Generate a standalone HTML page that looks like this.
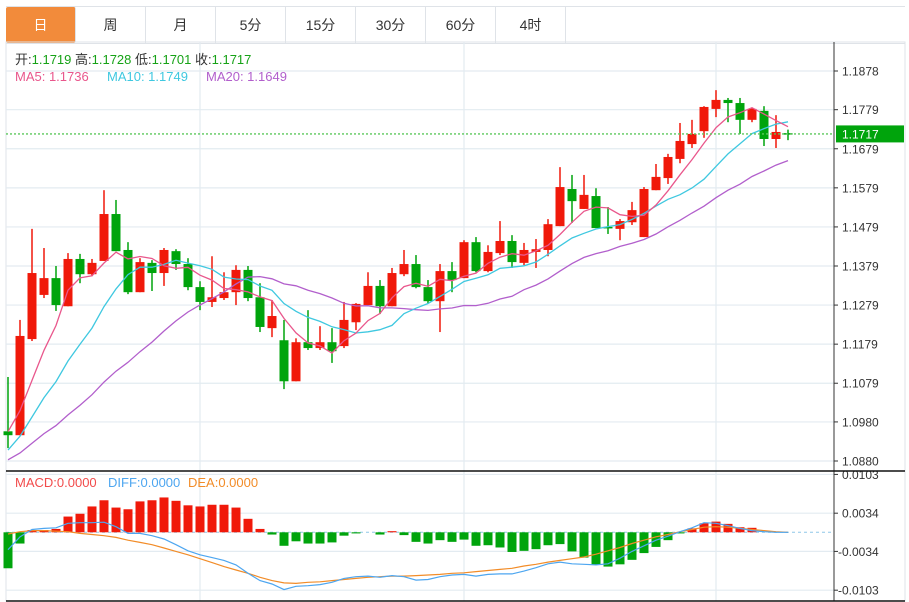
<!DOCTYPE html>
<html><head><meta charset="utf-8">
<style>
html,body{margin:0;padding:0;background:#fff;}
body{width:909px;height:602px;overflow:hidden;position:relative;font-family:"Liberation Sans","Noto Sans CJK SC",sans-serif;}
.tabs{position:absolute;left:6px;top:6px;height:36px;width:899px;border-top:1px solid #dfe3e8;border-bottom:1px solid #dfe3e8;display:flex;}
.tab{width:69px;border-right:1px solid #dfe3e8;text-align:center;line-height:36px;font-size:14px;color:#333;}
.tab.active{background:#f28b3b;color:#fff;border-radius:2px;}
svg{position:absolute;left:0;top:0;}
</style></head><body>
<div class="tabs">
<div class="tab active">日</div>
<div class="tab">周</div>
<div class="tab">月</div>
<div class="tab">5分</div>
<div class="tab">15分</div>
<div class="tab">30分</div>
<div class="tab">60分</div>
<div class="tab">4时</div>
</div>
<svg id="chart" width="909" height="602" font-family="Liberation Sans, Noto Sans CJK SC, sans-serif">
<g id="grid"></g><g id="marks"></g><g id="axes"></g>
<g font-size="13">
<text x="15" y="64" fill="#333">开:<tspan fill="#16a216">1.1719</tspan>  高:<tspan fill="#16a216">1.1728</tspan>  低:<tspan fill="#16a216">1.1701</tspan>  收:<tspan fill="#16a216">1.1717</tspan></text>
</g>
<g font-size="13">
<text x="15" y="81" fill="#e9578c">MA5: 1.1736</text>
<text x="107" y="81" fill="#3fc8e0">MA10: 1.1749</text>
<text x="206" y="81" fill="#b25fcc">MA20: 1.1649</text>
</g>
<g font-size="13">
<text x="15" y="487" fill="#f24b4b">MACD:0.0000</text>
<text x="108" y="487" fill="#4da6f0">DIFF:0.0000</text>
<text x="188" y="487" fill="#f28c28">DEA:0.0000</text>
</g>
</svg>
<script>
const opens=[1.0956,1.0946,1.1192,1.1305,1.1348,1.1276,1.1397,1.1358,1.1392,1.1512,1.1420,1.1312,1.1387,1.1361,1.1417,1.1384,1.1325,1.1287,1.1297,1.1312,1.1369,1.1299,1.1220,1.1189,1.1084,1.1184,1.1169,1.1184,1.1174,1.1235,1.1279,1.1328,1.1276,1.1358,1.1384,1.1325,1.1289,1.1366,1.1348,1.1440,1.1366,1.1412,1.1443,1.1387,1.1415,1.1420,1.1481,1.1576,1.1525,1.1558,1.1479,1.1474,1.1491,1.1453,1.1573,1.1604,1.1653,1.1691,1.1724,1.1781,1.1804,1.1796,1.1753,1.1776,1.1704,1.1719];
const highs=[1.1095,1.1241,1.1474,1.1425,1.1379,1.1412,1.1410,1.1397,1.1573,1.1548,1.1440,1.1399,1.1394,1.1425,1.1422,1.1399,1.1340,1.1404,1.1363,1.1381,1.1379,1.1335,1.1292,1.1241,1.1194,1.1266,1.1225,1.1220,1.1287,1.1284,1.1363,1.1343,1.1374,1.1420,1.1407,1.1343,1.1384,1.1389,1.1445,1.1453,1.1432,1.1494,1.1458,1.1438,1.1448,1.1499,1.1632,1.1612,1.1612,1.1578,1.1530,1.1499,1.1543,1.1581,1.1640,1.1666,1.1745,1.1753,1.1788,1.1829,1.1809,1.1809,1.1783,1.1788,1.1765,1.1728];
const lows=[1.0913,1.0946,1.1187,1.1297,1.1264,1.1276,1.1335,1.1353,1.1392,1.1417,1.1307,1.1312,1.1315,1.1328,1.1369,1.1317,1.1266,1.1274,1.1292,1.1279,1.1289,1.1210,1.1197,1.1064,1.1084,1.1164,1.1164,1.1131,1.1169,1.1215,1.1279,1.1256,1.1276,1.1353,1.1322,1.1284,1.1210,1.1312,1.1348,1.1363,1.1363,1.1407,1.1374,1.1381,1.1374,1.1404,1.1481,1.1489,1.1525,1.1476,1.1461,1.1445,1.1484,1.1453,1.1573,1.1589,1.1642,1.1681,1.1707,1.1760,1.1747,1.1717,1.1747,1.1686,1.1681,1.1701];
const closes=[1.0946,1.1200,1.1361,1.1348,1.1279,1.1397,1.1358,1.1387,1.1512,1.1417,1.1312,1.1389,1.1361,1.1420,1.1384,1.1325,1.1287,1.1299,1.1312,1.1369,1.1297,1.1223,1.1251,1.1084,1.1184,1.1169,1.1184,1.1161,1.1241,1.1282,1.1328,1.1276,1.1361,1.1384,1.1325,1.1289,1.1366,1.1343,1.1440,1.1366,1.1415,1.1443,1.1389,1.1420,1.1422,1.1486,1.1581,1.1545,1.1561,1.1476,1.1476,1.1494,1.1522,1.1576,1.1607,1.1658,1.1699,1.1717,1.1786,1.1804,1.1796,1.1753,1.1781,1.1704,1.1722,1.1717];
const priorCloses=[1.0850,1.0862,1.0855,1.0870,1.0848,1.0860,1.0852,1.0866,1.0858,1.0859,1.0845,1.0870,1.0852,1.0868,1.0870,1.0930,1.0975,1.0962,1.0962];
const macdBars=[-0.0064,-0.0020,0.0004,0.0004,0.0006,0.0028,0.0033,0.0046,0.0057,0.0044,0.0041,0.0055,0.0057,0.0062,0.0056,0.0048,0.0046,0.0049,0.0049,0.0044,0.0024,0.0006,-0.0004,-0.0024,-0.0016,-0.0020,-0.0020,-0.0018,-0.0006,-0.0002,0.0000,-0.0004,0.0002,-0.0005,-0.0017,-0.0020,-0.0014,-0.0017,-0.0013,-0.0024,-0.0023,-0.0027,-0.0035,-0.0033,-0.0030,-0.0023,-0.0021,-0.0034,-0.0045,-0.0058,-0.0061,-0.0057,-0.0049,-0.0037,-0.0026,-0.0014,-0.0002,0.0007,0.0016,0.0019,0.0015,0.0009,0.0008,0.0000,0.0000,0.0000];
const diffValues=[-0.0031,-0.0008,0.0005,0.0007,0.0008,0.0016,0.0017,0.0017,0.0018,0.0010,-0.0002,-0.0002,-0.0006,-0.0012,-0.0022,-0.0033,-0.0040,-0.0045,-0.0050,-0.0058,-0.0073,-0.0086,-0.0092,-0.0102,-0.0096,-0.0095,-0.0093,-0.0089,-0.0082,-0.0079,-0.0078,-0.0080,-0.0077,-0.0079,-0.0085,-0.0084,-0.0079,-0.0076,-0.0075,-0.0078,-0.0075,-0.0074,-0.0074,-0.0069,-0.0063,-0.0056,-0.0053,-0.0056,-0.0057,-0.0058,-0.0056,-0.0046,-0.0034,-0.0024,-0.0014,-0.0007,0.0001,0.0008,0.0017,0.0016,0.0012,0.0007,0.0003,0.0001,0.0000,0.0000];
const deaValues=[-0.0003,0.0001,0.0003,0.0003,0.0002,0.0001,-0.0002,-0.0004,-0.0006,-0.0009,-0.0014,-0.0018,-0.0022,-0.0028,-0.0034,-0.0040,-0.0047,-0.0054,-0.0061,-0.0067,-0.0073,-0.0080,-0.0086,-0.0090,-0.0091,-0.0089,-0.0088,-0.0086,-0.0084,-0.0082,-0.0080,-0.0079,-0.0078,-0.0078,-0.0077,-0.0076,-0.0075,-0.0073,-0.0072,-0.0070,-0.0068,-0.0066,-0.0064,-0.0060,-0.0057,-0.0053,-0.0050,-0.0047,-0.0044,-0.0039,-0.0033,-0.0027,-0.0020,-0.0014,-0.0008,-0.0004,0.0001,0.0005,0.0009,0.0010,0.0009,0.0007,0.0005,0.0003,0.0001,0.0000];
const priceTicks=['1.1878','1.1779','1.1679','1.1579','1.1479','1.1379','1.1279','1.1179','1.1079','1.0980','1.0880'];
const macdTicks=['0.0103','0.0034','-0.0034','-0.0103'];
const lastPrice=1.1717;

const NS='http://www.w3.org/2000/svg';
const P0=1.0880,P1=1.1878,Y0=461,Y1=71;
function yP(p){return Y0+(p-P0)*(Y1-Y0)/(P1-P0);}
function yM(v){return 532.3-v*5620;}
function xI(i){return 8+12*i;}
const RED='#f0190a',GREEN='#00a40c';
function mk(tag,attrs,parent){const e=document.createElementNS(NS,tag);for(const k in attrs)e.setAttribute(k,attrs[k]);parent.appendChild(e);return e;}
const grid=document.getElementById('grid'),marks=document.getElementById('marks'),axes=document.getElementById('axes');

// frame / grid
let e;
e=mk('rect',{x:6,y:42,width:899,height:559,fill:'none',stroke:'#dfe3e8'},grid);


priceTicks.forEach(t=>{const y=yP(parseFloat(t));
 e=mk('line',{x1:6,x2:834,y1:y,y2:y,stroke:'#e3ebf1','stroke-width':1.2},grid);
 
 
 e=mk('line',{x1:834,x2:838,y1:y,y2:y,stroke:'#333'},axes);
 
 
 e=mk('text',{x:842,y:y+4.5,'font-size':12,fill:'#333'},axes);e.textContent=t;
 
 
});
[200,464,716].forEach(x=>{
 e=mk('line',{x1:x,x2:x,y1:42,y2:601,stroke:'#e3ebf1','stroke-width':1.2},grid);
 
 
});
macdTicks.forEach(t=>{const y=yM(parseFloat(t));
 e=mk('line',{x1:6,x2:834,y1:y,y2:y,stroke:'#e3ebf1','stroke-width':1.2},grid);
 
 
 e=mk('line',{x1:834,x2:838,y1:y,y2:y,stroke:'#333'},axes);
 
 
 e=mk('text',{x:t[0]=='-'?838:842,y:y+4.5,'font-size':12,fill:'#333'},axes);e.textContent=t;
 
 
});
e=mk('line',{x1:6,x2:834,y1:yM(0),y2:yM(0),stroke:'#8fc7e8','stroke-dasharray':'3,3'},grid);



// candles
for(let i=0;i<closes.length;i++){
 const up=closes[i]>=opens[i]&&!(i==closes.length-1);
 const c=(closes[i]>opens[i])?RED:GREEN;
 const x=xI(i);
 e=mk('line',{x1:x,x2:x,y1:yP(highs[i]),y2:yP(lows[i]),stroke:c,'stroke-width':1.5},marks);
 
 
 const t=yP(Math.max(opens[i],closes[i])),b=yP(Math.min(opens[i],closes[i]));
 e=mk('rect',{x:x-4.5,y:t,width:9,height:Math.max(1.5,b-t),fill:c},marks);
 
 
}
// MAs
const all=priorCloses.concat(closes);
function ma(n){const out=[];for(let i=0;i<closes.length;i++){let s=0;const k=i+priorCloses.length;for(let j=k-n+1;j<=k;j++)s+=all[j];out.push(s/n);}return out;}
[[20,'#b25fcc','ma20-line'],[10,'#3fc8e0','ma10-line'],[5,'#e9578c','ma5-line']].forEach(([n,col,name])=>{
 const v=ma(n);
 e=mk('polyline',{points:v.map((p,i)=>xI(i)+','+yP(p).toFixed(1)).join(' '),fill:'none',stroke:col,'stroke-width':1.3},marks);
 
 
});
// last price line
const ly=yP(lastPrice);
e=mk('line',{x1:6,x2:834,y1:ly,y2:ly,stroke:'#5cc85c','stroke-dasharray':'2,2','stroke-width':1.3},marks);


e=mk('rect',{x:836,y:ly-8.5,width:68,height:17,fill:'#00a40c'},axes);


e=mk('text',{x:842,y:ly+4.5,'font-size':12,fill:'#fff'},axes);e.textContent=lastPrice.toFixed(4);



// MACD bars
macdBars.forEach((v,i)=>{ if(v===0)return;
 const y0=yM(0),y1=yM(v);
 e=mk('rect',{x:xI(i)-4.5,y:Math.min(y0,y1),width:9,height:Math.abs(y1-y0),fill:v>0?RED:GREEN},marks);
 
 
});
e=mk('polyline',{points:deaValues.map((v,i)=>xI(i)+','+yM(v).toFixed(1)).join(' '),fill:'none',stroke:'#f28c28','stroke-width':1.2},marks);


e=mk('polyline',{points:diffValues.map((v,i)=>xI(i)+','+yM(v).toFixed(1)).join(' '),fill:'none',stroke:'#4da6f0','stroke-width':1.2},marks);



// axis lines & separators
e=mk('line',{x1:834,x2:834,y1:42,y2:601,stroke:'#333'},axes);


e=mk('line',{x1:6,x2:905,y1:471,y2:471,stroke:'#111','stroke-width':1.5},axes);


e=mk('line',{x1:6,x2:905,y1:601,y2:601,stroke:'#111','stroke-width':1.5},axes);


</script>
</body></html>
